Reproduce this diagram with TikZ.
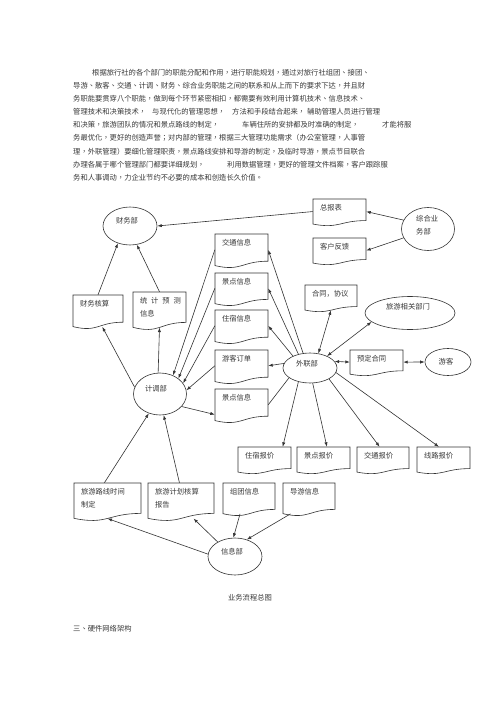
\documentclass[tikz,border=0pt]{standalone}
\usepackage{fontspec}
\newfontfamily\cjk{Noto Sans CJK TC}
\newfontfamily\cjksc{Noto Sans CJK SC}
\usetikzlibrary{shapes.geometric,arrows.meta,fit,calc}
\tikzset{
  ln/.style={draw=black!80, line width=0.6pt},
  boxln/.style={draw=black!80, line width=0.6pt},
  arr/.style={ln, -{Latex[length=4.5pt,width=3.2pt]}},
  darr/.style={ln, {Latex[length=4.5pt,width=3.2pt]}-{Latex[length=4.5pt,width=3.2pt]}},
  ell/.style={ellipse, draw=black!80, line width=0.6pt, inner sep=0pt},
  lbl/.style={font=\cjk\fontsize{7.3}{13}\selectfont, text=black!78, inner sep=0pt},
  para/.style={lbl, anchor=west},
}
\newcommand\mydocbox[6]{%
  \pgfmathsetmacro\dbxm{(#2+#4)/2}%
  \pgfmathsetmacro\dbyr{#3+0.80*(#5-#3)}%
  \pgfmathsetmacro\dbyc{#3+1.11*(#5-#3)}%
  \pgfmathsetmacro\dbyl{#3+0.93*(#5-#3)}%
  \draw[boxln] (#2,#3) -- (#4,#3) -- (#4,\dbyr) .. controls (\dbxm,\dbyr) and (\dbxm,\dbyc) .. (#2,\dbyl) -- cycle;
  \node[fit={(#2,#3) (#4,\dbyl)}, inner sep=0pt] (#1) {};
  \node[lbl, anchor=north west, align=left] (#1t) at ([xshift=7pt,yshift=-5.5pt]#1.north west) {#6};
}
\begin{document}
\begin{tikzpicture}[x=1pt,y=-1pt]
\fill[white] (0,0) rectangle (500,708);
\useasboundingbox (0,0) rectangle (500,708);

% paragraph
\node[para] (p1) at (92,72.7) {根据旅行社的各个部门的职能分配和作用，进行职能规划，通过对旅行社组团、接团、};
\node[para] (p2) at (73,85.8) {导游、散客、交通、计调、财务、综合业务职能之间的联系和从上而下的要求下达，并且财};
\node[para] (p3) at (73,98.9) {务职能要贯穿八个职能，做到每个环节紧密相扣，都需要有效利用计算机技术、信息技术、};
\node[para] (p4a) at (73,112) {管理技术和决策技术，};
\node[para] (p4b) at (152,112) {与现代化的管理思想，};
\node[para] (p4c) at (232,112) {方法和手段结合起来，};
\node[para] (p4d) at (307,112) {辅助管理人员进行管理};
\node[para] (p5a) at (73,125.1) {和决策，旅游团队的情况和景点路线的制定，};
\node[para] (p5b) at (242,125.1) {车辆住所的安排都及时准确的制定，};
\node[para] (p5c) at (382,125.1) {才能将服};
\node[para] (p6) at (73,138.2) {务最优化，更好的创造声誉；对内部的管理，根据三大管理功能需求（办公室管理，人事管};
\node[para] (p7) at (73,151.3) {理，外联管理）要细化管理职责，景点路线安排和导游的制定，及临时导游，景点节目联合};
\node[para] (p8a) at (73,164.4) {办理各属于哪个管理部门都要详细规划，};
\node[para] (p8b) at (227,164.4) {利用数据管理，更好的管理文件档案，客户跟踪服};
\node[para] (p9) at (73,177.5) {务和人事调动，力企业节约不必要的成本和创造长久价值。};

% ellipses
\node[ell, minimum width=54pt, minimum height=38pt] (cw) at (130,226) {};
\node[lbl] (cwt) at (127,221) {财务部};
\node[ell, minimum width=53pt, minimum height=43pt] (zh) at (428,229) {};
\node[lbl, anchor=north west, align=left] (zht) at (416,215) {综合业\\务部};
\node[ell, minimum width=53pt, minimum height=42pt] (jd) at (160,394) {};
\node[lbl] (jdt) at (156,389) {计调部};
\node[ell, minimum width=54pt, minimum height=30pt] (wl) at (310,368) {};
\node[lbl] (wlt) at (307,364) {外联部};
\node[ell, minimum width=90pt, minimum height=33pt] (ly) at (410,313) {};
\node[lbl] (lyt) at (408,306.5) {旅游相关部门};
\node[ell, minimum width=46pt, minimum height=27pt] (yk) at (448,362) {};
\node[lbl] (ykt) at (446,362) {游客};
\node[ell, minimum width=54pt, minimum height=37pt] (xx) at (235,556.5) {};
\node[lbl] (xxt) at (232,551.5) {信息部};

% document boxes
\mydocbox{zbb}{313}{199}{366}{226}{总报表}
\mydocbox{khfk}{313}{238}{366}{265}{客户反馈}
\mydocbox{jt1}{215}{234}{268}{268}{交通信息}
\mydocbox{jd1}{215}{273}{268}{306}{景点信息}
\mydocbox{zs1}{215}{310}{268}{344}{住宿信息}
\mydocbox{ykdd}{215}{350}{268}{384}{游客订单}
\mydocbox{jd2}{215}{389}{268}{423}{景点信息}
\mydocbox{cwhs}{73}{295}{123}{329}{财务核算}
\mydocbox{tjyc}{133}{292}{186}{330}{\makebox[41pt][l]{统\hfill 计\hfill 预\hfill 测}\\信息}
\mydocbox{htxy}{305}{285}{357}{312}{\cjksc 合同，协议}
\mydocbox{ydht}{350}{350}{403}{376}{预定合同}
\mydocbox{zsbj}{238}{447}{291}{474}{住宿报价}
\mydocbox{jdbj}{297}{447}{350}{474}{景点报价}
\mydocbox{jtbj}{357}{447}{409}{474}{交通报价}
\mydocbox{xlbj}{417}{447}{470}{474}{线路报价}
\mydocbox{lyxl}{74}{483}{141}{521}{旅游路线时间\\制定}
\mydocbox{lyjh}{148}{483}{214}{521}{旅游计划核算\\报告}
\mydocbox{ztxx}{223}{483}{275}{516}{组团信息}
\mydocbox{dyxx}{283}{483}{335}{516}{导游信息}

% connectors
\draw[arr] (zbb.west) -- (cw.east);
\draw[arr] (zh.160) -- (zbb.east);
\draw[arr] (zh.200) -- (khfk.east);
\draw[arr] (cwhs.north) -- (cw.235);
\draw[arr] (tjyc.north) -- (cw.290);
\draw[arr] (jd.165) -- (cwhs.-75);
\draw[arr] (jd.95) -- (tjyc.south);
\draw[arr] (jt1.west) -- (jd.55);
\draw[arr] (jd1.west) -- (jd.40);
\draw[arr] (zs1.west) -- (jd.25);
\draw[arr] (ykdd.west) -- (jd.8);
\draw[arr] (jd.-30) -- (jd2.200);
\draw[arr] (wl.115) -- (jt1.east);
\draw[arr] (wl.130) -- (jd1.east);
\draw[arr] (wl.145) -- (zs1.east);
\draw[arr] (wl.170) -- (ykdd.east);
\draw[ln] (wl.205) -- (jd2.east);
\draw[darr] (wl.60) -- (htxy.south);
\draw[darr] (wl.35) -- (ly.193);
\draw[darr] (wl.15) -- (ydht.west);
\draw[darr] (ydht.east) -- (yk.west);
\draw[arr] (wl.230) -- (zsbj.35);
\draw[arr] (wl.280) -- (jdbj.75);
\draw[arr] (wl.330) -- (jtbj.105);
\draw[arr] (wl.350) -- (xlbj.110);
\draw[arr] (lyxl.100) -- (jd.240);
\draw[arr] (lyjh.95) -- (jd.280);
\draw[arr] (xx.175) -- (lyxl.south);
\draw[arr] (xx.140) -- (lyjh.-55);
\draw[arr] (ztxx.-120) -- (xx.95);
\draw[arr] (dyxx.-140) -- (xx.55);

% captions
\node[lbl] (cap) at (250,598) {业务流程总图};
\node[lbl, anchor=west] (sec) at (73,629) {三、硬件网络架构};
\end{tikzpicture}
\end{document}
